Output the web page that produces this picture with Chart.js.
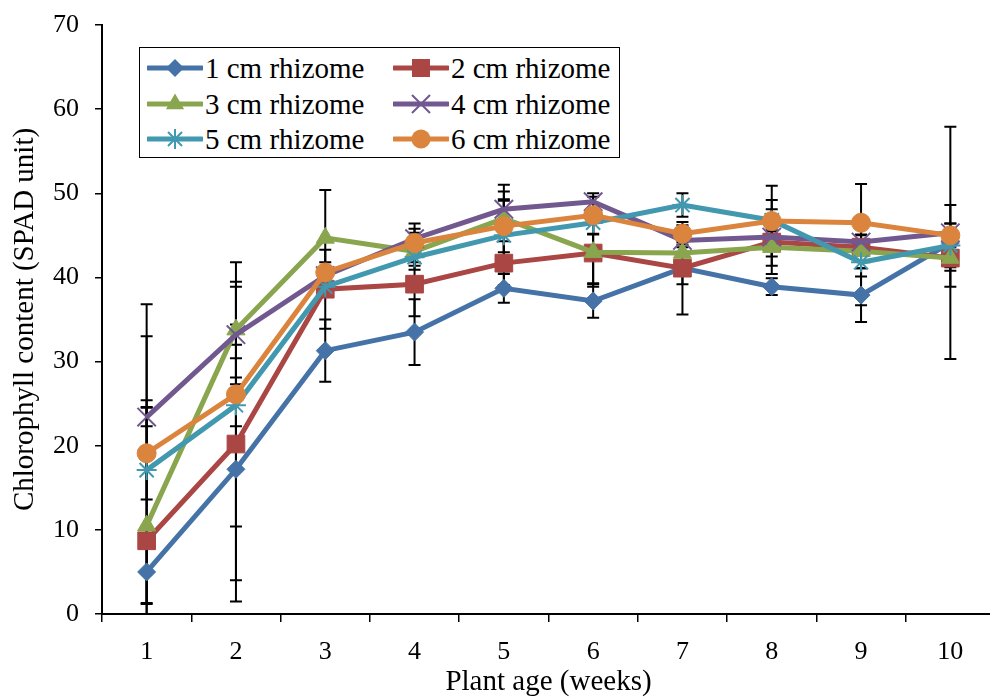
<!DOCTYPE html>
<html><head><meta charset="utf-8">
<script src="https://cdn.jsdelivr.net/npm/chart.js@4/dist/chart.umd.min.js"></script>
<style>
html,body{margin:0;padding:0;background:#fff;overflow:hidden;width:990px;height:698px;}
#wrap{position:absolute;left:0;top:0;width:1010px;height:698px;}
#legend{position:absolute;left:139px;top:47px;width:479px;height:109px;border:1px solid #000;background:#fff;font-family:"Liberation Serif","Times New Roman",serif;font-size:29px;color:#000;}
.item{position:absolute;height:30px;display:flex;align-items:center;white-space:nowrap;line-height:30px;}
.item svg{display:block;margin-right:2px;}
</style></head>
<body>
<div id="wrap"><canvas id="c"></canvas></div>
<div id="legend"></div>
<script>
const weeks = ['1','2','3','4','5','6','7','8','9','10'];
const seriesNames = ['1 cm rhizome','2 cm rhizome','3 cm rhizome','4 cm rhizome','5 cm rhizome','6 cm rhizome'];
const rhizome1 = [5.0, 17.2, 31.3, 33.5, 38.7, 37.2, 41.1, 38.9, 37.9, 44.1];
const rhizome2 = [8.7, 20.2, 38.6, 39.2, 41.7, 42.9, 41.1, 44.2, 43.6, 42.3];
const rhizome3 = [10.5, 33.8, 44.7, 43.1, 47.0, 43.0, 42.9, 43.6, 43.1, 42.3];
const rhizome4 = [23.4, 33.2, 40.2, 44.6, 48.1, 49.0, 44.4, 44.8, 44.2, 45.3];
const rhizome5 = [17.1, 24.8, 38.9, 42.4, 45.0, 46.5, 48.6, 46.8, 41.8, 43.8];
const rhizome6 = [19.1, 26.1, 40.6, 44.1, 46.1, 47.4, 45.2, 46.7, 46.5, 45.0];
const err1 = [3.7, 13.2, 3.7, 3.9, 1.7, 2.0, 1.9, 1.0, 3.2, 13.8];
const err2 = [16.7, 18.7, 4.7, 3.8, 2.6, 4.0, 5.5, 1.0, 3.5, 3.4];
const err3 = [26.3, 5.7, 5.7, 2.2, 4.0, 3.7, 1.0, 2.2, 2.0, 1.5];
const err4 = [1.1, 1.2, 1.0, 1.2, 1.0, 1.0, 0.8, 4.4, 0.8, 3.3];
const err5 = [15.9, 2.5, 0.8, 1.0, 4.3, 1.4, 1.4, 1.3, 5.1, 2.6];
const err6 = [5.5, 15.7, 1.2, 2.3, 4.1, 2.2, 1.0, 4.2, 4.6, 1.4];
const yTicks = [0, 10, 20, 30, 40, 50, 60, 70];

const values = [rhizome1, rhizome2, rhizome3, rhizome4, rhizome5, rhizome6];
const errors = [err1, err2, err3, err4, err5, err6];
const colors = ['#4573A7', '#AA4643', '#89A54E', '#71588F', '#4198AF', '#DB843D'];
const styles = ['rectRot', 'rect', 'triangle', 'crossRot', 'star', 'circle'];
const radii = [9, 12.5, 10.5, 13, 10, 9.5];
const FONT = '"Liberation Serif","Times New Roman",serif';

const datasets = values.map((v, i) => ({
  label: seriesNames[i],
  data: v,
  borderColor: colors[i],
  backgroundColor: colors[i],
  borderWidth: 5,
  pointStyle: styles[i],
  pointRadius: radii[i],
  pointHoverRadius: radii[i],
  pointBorderWidth: (styles[i] === 'crossRot' || styles[i] === 'star') ? 2 : 1,
  pointBorderColor: colors[i],
  pointBackgroundColor: colors[i],
  tension: 0,
  order: 6 - i
}));

const errorBars = {
  id: 'errorBars',
  beforeDatasetsDraw(chart) {
    const {ctx, chartArea, scales} = chart;
    const x = scales.x, y = scales.y;
    ctx.save();
    ctx.beginPath();
    ctx.rect(chartArea.left, chartArea.top - 20, chartArea.width, chartArea.height + 20);
    ctx.clip();
    ctx.strokeStyle = '#000';
    ctx.lineWidth = 2;
    values.forEach((v, i) => {
      v.forEach((val, j) => {
        const e = errors[i][j];
        const px = x.getPixelForValue(j);
        const t = y.getPixelForValue(val + e);
        const b = y.getPixelForValue(val - e);
        ctx.beginPath();
        ctx.moveTo(px, t); ctx.lineTo(px, b);
        ctx.moveTo(px - 6, t); ctx.lineTo(px + 6, t);
        ctx.moveTo(px - 6, b); ctx.lineTo(px + 6, b);
        ctx.stroke();
      });
    });
    ctx.restore();
  }
};

new Chart(document.getElementById('c'), {
  type: 'line',
  data: { labels: weeks, datasets },
  options: {
    responsive: true,
    maintainAspectRatio: false,
    animation: false,
    devicePixelRatio: 1,
    layout: { padding: { top: 25, right: 8, left: 0, bottom: 0 } },
    plugins: { legend: { display: false }, tooltip: { enabled: false } },
    scales: {
      x: {
        type: 'category',
        offset: true,
        grid: { offset: true, drawOnChartArea: false, drawTicks: true, tickLength: 8, color: '#000', lineWidth: 1.5 },
        border: { display: true, color: '#000', width: 2 },
        ticks: { color: '#000', font: { family: FONT, size: 26 }, padding: 15, maxRotation: 0 },
        title: { display: true, text: 'Plant age (weeks)', color: '#000', font: { family: FONT, size: 29 }, padding: { top: 0, bottom: -2 } },
        afterFit(s) { s.height = 84; s.paddingLeft = 0; s.paddingRight = 0; }
      },
      y: {
        min: 0, max: 70,
        afterBuildTicks(s) { s.ticks = yTicks.map(v => ({ value: v })); },
        grid: { drawOnChartArea: false, drawTicks: true, tickLength: 7, color: '#000', lineWidth: 1.5 },
        border: { display: true, color: '#000', width: 2 },
        ticks: { color: '#000', font: { family: FONT, size: 26 }, padding: 16 },
        title: { display: true, text: 'Chlorophyll content (SPAD unit)', color: '#000', font: { family: FONT, size: 29 }, padding: { top: 8, bottom: 0 } },
        afterFit(s) { s.width = 102; s.paddingTop = 0; s.paddingBottom = 0; }
      }
    }
  },
  plugins: [errorBars]
});

// HTML legend
function markerSVG(i) {
  const c = colors[i];
  let m = '';
  switch (styles[i]) {
    case 'rectRot': m = `<polygon points="28,6 37,15 28,24 19,15" fill="${c}"/>`; break;
    case 'rect': m = `<rect x="19" y="6" width="18" height="18" fill="${c}"/>`; break;
    case 'triangle': m = `<polygon points="28,4.5 37.1,20.2 18.9,20.2" fill="${c}"/>`; break;
    case 'crossRot': m = `<path d="M19,6 L37,24 M37,6 L19,24" stroke="${c}" stroke-width="2"/>`; break;
    case 'star': m = `<path d="M28,5 L28,25 M21,8 L35,22 M35,8 L21,22 M18,15 L38,15" stroke="${c}" stroke-width="2"/>`; break;
    case 'circle': m = `<circle cx="28" cy="15" r="9.5" fill="${c}"/>`; break;
  }
  return `<svg width="56" height="30" viewBox="0 0 56 30"><line x1="1" y1="15" x2="55" y2="15" stroke="${c}" stroke-width="5" stroke-linecap="round"/>${m}</svg>`;
}
const legend = document.getElementById('legend');
const colLeft = [7, 253];
const rowTop = [5, 41, 76];
seriesNames.forEach((n, i) => {
  const d = document.createElement('div');
  d.className = 'item';
  d.style.left = colLeft[i % 2] + 'px';
  d.style.top = rowTop[Math.floor(i / 2)] + 'px';
  d.innerHTML = markerSVG(i) + '<span>' + n + '</span>';
  legend.appendChild(d);
});
</script>
</body></html>
